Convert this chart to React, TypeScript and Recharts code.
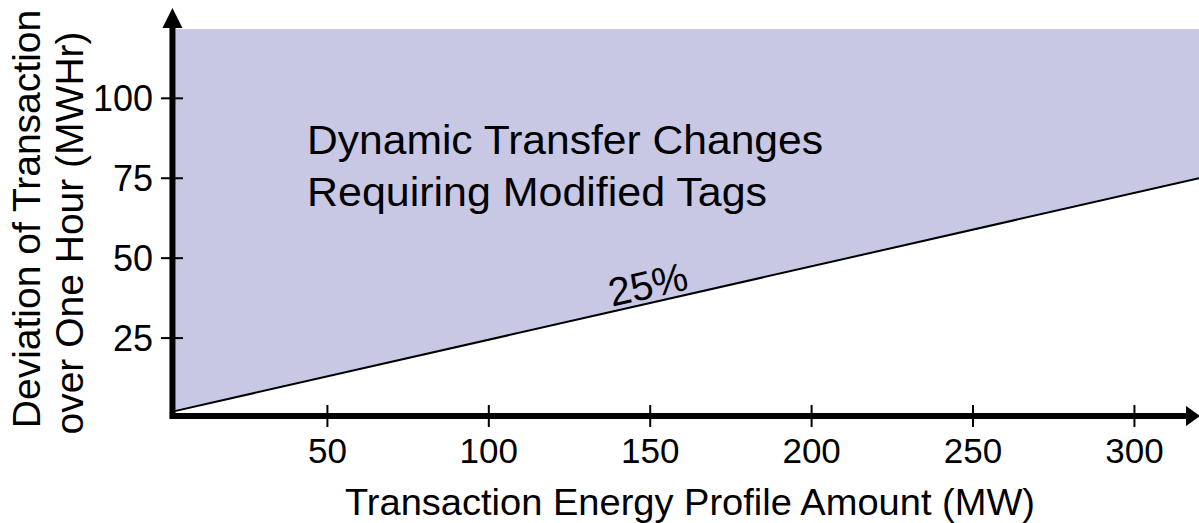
import React from "react"
import {
    ComposedChart,
    Area,
    Line,
    XAxis,
    YAxis,
    ReferenceLine,
    ReferenceDot
} from "recharts"

// values
const profileMW = [2, 320]
const boundary25 = [2, 75] // the 25% line (MWHr)
const regionTop = [121.7, 121.7]
const xTicks = [50, 100, 150, 200, 250, 300]
const yTicks = [25, 50, 75, 100]

const FONT = "'Liberation Sans', Arial, Helvetica, sans-serif"

const bandData = profileMW.map((mw, i) => ({ mw, band: [boundary25[i], regionTop[i]] }))
const lineData = profileMW.map((mw, i) => ({ mw, dev: boundary25[i] }))

const XTick = (props: any) => {
    const { x, y, payload } = props
    return (
        <g>
            <line x1={x} x2={x} y1={y - 13} y2={y + 9} stroke="#000" strokeWidth={2} />
            <text x={x} y={y + 45} textAnchor="middle" fontSize={35} fontFamily={FONT} fill="#000">
                {payload.value}
            </text>
        </g>
    )
}

const YTick = (props: any) => {
    const { x, y, payload } = props
    return (
        <g>
            <line x1={x - 5} x2={x + 17} y1={y} y2={y} stroke="#000" strokeWidth={2} />
            <text x={x - 13} y={y + 13} textAnchor="end" fontSize={36} fontFamily={FONT} fill="#000">
                {payload.value}
            </text>
        </g>
    )
}

const UpArrow = (props: any) => {
    const { cx, cy } = props
    return <polygon points={`${cx - 10},${cy} ${cx + 10},${cy} ${cx},${cy - 20}`} fill="#000" />
}

const RightArrow = (props: any) => {
    const { cx, cy } = props
    return <polygon points={`${cx},${cy - 10} ${cx},${cy + 10} ${cx + 14},${cy}`} fill="#000" />
}

export default function App() {
    return (
        <div style={{ position: "absolute", left: 0, top: 0, width: 1199, height: 523, background: "#fff" }}>
            <ComposedChart
                width={1199}
                height={523}
                margin={{ top: 28, right: 0, bottom: 45, left: 66 }}
            >
                <XAxis
                    type="number"
                    dataKey="mw"
                    domain={[0, 320]}
                    ticks={xTicks}
                    interval={0}
                    height={60}
                    axisLine={false}
                    tickLine={false}
                    tickSize={0}
                    tickMargin={0}
                    tick={<XTick />}
                    allowDataOverflow
                />
                <YAxis
                    type="number"
                    domain={[0, 122]}
                    ticks={yTicks}
                    interval={0}
                    width={100}
                    axisLine={false}
                    tickLine={false}
                    tickSize={0}
                    tickMargin={0}
                    tick={<YTick />}
                    allowDataOverflow
                />
                <Area
                    data={bandData}
                    dataKey="band"
                    type="linear"
                    stroke="none"
                    fill="#c8c8e5"
                    fillOpacity={1}
                    isAnimationActive={false}
                />
                <Line
                    data={lineData}
                    dataKey="dev"
                    type="linear"
                    stroke="#000"
                    strokeWidth={2}
                    dot={false}
                    isAnimationActive={false}
                />
                <ReferenceLine
                    segment={[{ x: 2, y: -0.3 }, { x: 2, y: 122 }]}
                    stroke="#000"
                    strokeWidth={6}
                    ifOverflow="visible"
                />
                <ReferenceLine
                    segment={[{ x: 1.2, y: 0.63 }, { x: 316, y: 0.63 }]}
                    stroke="#000"
                    strokeWidth={6}
                    ifOverflow="visible"
                />
                <ReferenceDot x={2} y={122} r={1} shape={<UpArrow />} ifOverflow="visible" />
                <ReferenceDot x={316} y={0.63} r={1} shape={<RightArrow />} ifOverflow="visible" />
            </ComposedChart>

            <svg
                width={1199}
                height={523}
                style={{ position: "absolute", left: 0, top: 0, pointerEvents: "none" }}
                fontFamily={FONT}
            >
                <text x={307} y={154} fontSize={41} textLength={516} lengthAdjust="spacingAndGlyphs" fill="#000">
                    Dynamic Transfer Changes
                </text>
                <text x={307} y={206} fontSize={41} textLength={460} lengthAdjust="spacingAndGlyphs" fill="#000">
                    Requiring Modified Tags
                </text>
                <text
                    transform="translate(651,298) rotate(-12.8)"
                    textAnchor="middle"
                    fontSize={40}
                    fill="#000"
                >
                    25%
                </text>
                <text x={345} y={515} fontSize={37} textLength={690} lengthAdjust="spacingAndGlyphs" fill="#000">
                    Transaction Energy Profile Amount (MW)
                </text>
                <text transform="translate(40,219) rotate(-90)" textAnchor="middle" fontSize={39} fill="#000">
                    Deviation of Transaction
                </text>
                <text transform="translate(83,233) rotate(-90)" textAnchor="middle" fontSize={39} fill="#000">
                    over One Hour (MWHr)
                </text>
            </svg>
        </div>
    )
}
